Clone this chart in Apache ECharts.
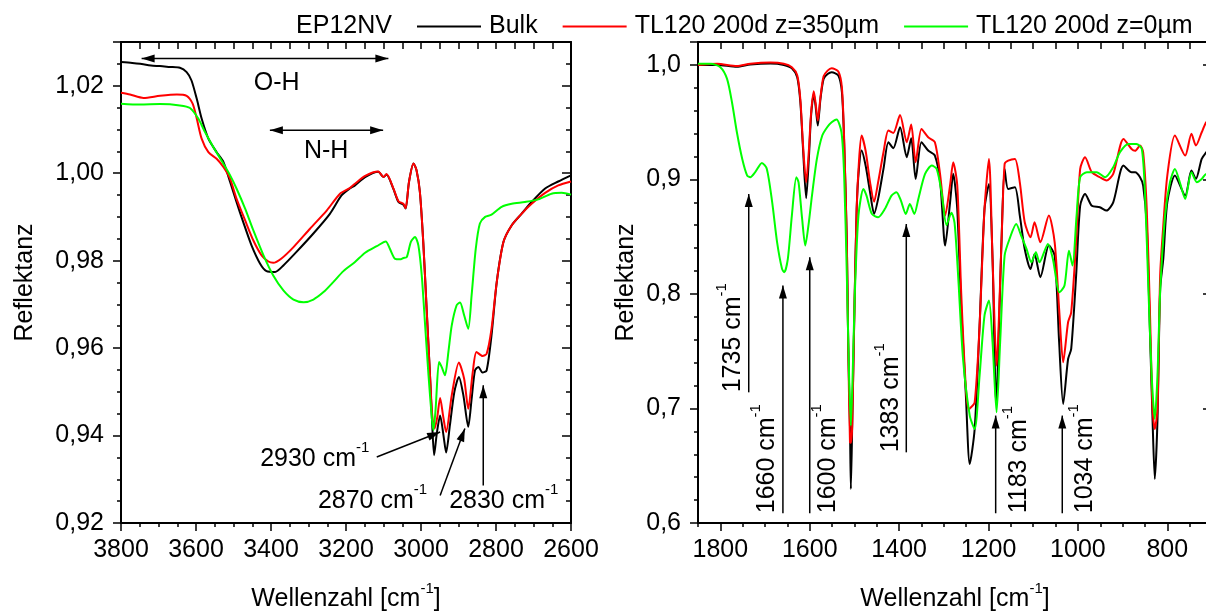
<!DOCTYPE html>
<html><head><meta charset="utf-8">
<script src="https://cdn.jsdelivr.net/npm/echarts@6.0.0/dist/echarts.min.js"></script>
<style>html,body{margin:0;padding:0;background:#fff}#c{width:1206px;height:611px}</style>
</head><body><div id="c"></div>
<script>
// ---------------- DATA ----------------
const seriesNames = ['Bulk', 'TL120 200d z=350µm', 'TL120 200d z=0µm'];
const legendTitle = 'EP12NV';

// Left panel: [wavenumber, reflectance]
const leftBulk = [[3800,1.0254],[3770,1.0252],[3749,1.0250],[3720,1.0246],[3696,1.0245],[3670,1.0243],[3643,1.0241],[3625,1.0231],[3612,1.0212],[3598,1.0170],[3585,1.0125],[3567,1.0079],[3545,1.0048],[3527,1.0026],[3509,0.9980],[3492,0.9934],[3474,0.9888],[3452,0.9835],[3429,0.9793],[3412,0.9776],[3389,0.9774],[3367,0.9789],[3332,0.9820],[3287,0.9862],[3243,0.9907],[3212,0.9949],[3190,0.9965],[3176,0.9972],[3149,0.9991],[3114,1.0003],[3100,0.9991],[3092,0.9997],[3074,0.9965],[3060,0.9934],[3047,0.9928],[3041,0.9919],[3032,0.9980],[3020,1.0022],[3012,1.0007],[3003,0.9957],[2994,0.9843],[2985,0.9690],[2976,0.9538],[2970,0.9423],[2965,0.9355],[2958,0.9404],[2949,0.9446],[2940,0.9400],[2933,0.9361],[2923,0.9423],[2911,0.9500],[2899,0.9534],[2887,0.9492],[2874,0.9420],[2865,0.9484],[2856,0.9549],[2847,0.9557],[2836,0.9544],[2825,0.9549],[2812,0.9629],[2798,0.9751],[2780,0.9843],[2758,0.9881],[2732,0.9907],[2705,0.9934],[2669,0.9965],[2634,0.9981],[2600,0.9995]];
const leftZ350 = [[3800,1.0184],[3776,1.0180],[3740,1.0172],[3696,1.0177],[3651,1.0180],[3625,1.0177],[3609,1.0159],[3598,1.0125],[3585,1.0079],[3567,1.0048],[3545,1.0033],[3527,1.0014],[3509,0.9987],[3492,0.9942],[3469,0.9892],[3447,0.9846],[3425,0.9812],[3407,0.9798],[3394,0.9795],[3372,0.9805],[3340,0.9831],[3296,0.9873],[3251,0.9915],[3216,0.9953],[3190,0.9966],[3176,0.9976],[3149,0.9994],[3114,1.0004],[3100,0.9991],[3092,0.9998],[3074,0.9966],[3060,0.9936],[3047,0.9930],[3041,0.9920],[3032,0.9980],[3020,1.0022],[3012,1.0007],[3003,0.9957],[2994,0.9843],[2985,0.9690],[2976,0.9538],[2970,0.9446],[2964,0.9416],[2957,0.9440],[2949,0.9486],[2941,0.9445],[2933,0.9408],[2918,0.9492],[2899,0.9567],[2885,0.9530],[2874,0.9461],[2862,0.9545],[2852,0.9591],[2836,0.9582],[2825,0.9587],[2812,0.9644],[2798,0.9751],[2780,0.9843],[2758,0.9881],[2732,0.9907],[2705,0.9930],[2669,0.9955],[2634,0.9972],[2600,0.9981]];
const leftZ0 = [[3800,1.0159],[3749,1.0157],[3696,1.0158],[3643,1.0155],[3616,1.0149],[3594,1.0125],[3576,1.0094],[3554,1.0060],[3532,1.0029],[3509,0.9995],[3492,0.9965],[3469,0.9919],[3447,0.9869],[3420,0.9812],[3394,0.9766],[3367,0.9732],[3340,0.9711],[3313,0.9705],[3287,0.9711],[3260,0.9728],[3234,0.9751],[3207,0.9776],[3176,0.9797],[3149,0.9818],[3118,0.9833],[3094,0.9844],[3083,0.9827],[3069,0.9804],[3056,0.9803],[3047,0.9806],[3038,0.9808],[3027,0.9843],[3016,0.9854],[3007,0.9835],[2998,0.9766],[2989,0.9652],[2980,0.9538],[2971,0.9439],[2967,0.9412],[2961,0.9461],[2952,0.9568],[2945,0.9557],[2936,0.9538],[2927,0.9591],[2918,0.9652],[2905,0.9698],[2896,0.9704],[2885,0.9675],[2874,0.9644],[2865,0.9721],[2854,0.9827],[2843,0.9885],[2829,0.9900],[2812,0.9905],[2785,0.9923],[2758,0.9930],[2723,0.9934],[2687,0.9940],[2652,0.9953],[2625,0.9955],[2600,0.9951]];

// Right panel: [wavenumber, reflectance]
const rightBulk = [[1850,1.000],[1807,1.000],[1763,0.9983],[1733,1.0003],[1688,1.0012],[1658,1.000],[1640,0.9971],[1628,0.9892],[1621,0.9674],[1615,0.9266],[1608,0.8836],[1602,0.918],[1597,0.9558],[1591,0.9747],[1587,0.9645],[1582,0.947],[1576,0.9703],[1569,0.9878],[1560,0.9920],[1551,0.9936],[1536,0.9907],[1528,0.9761],[1523,0.9325],[1517,0.8451],[1514,0.7578],[1510,0.6850],[1508,0.6297],[1505,0.6850],[1500,0.7870],[1495,0.8742],[1490,0.9092],[1484,0.9252],[1475,0.9121],[1465,0.8888],[1456,0.8699],[1447,0.8830],[1435,0.9092],[1424,0.9325],[1413,0.9272],[1398,0.9456],[1383,0.9194],[1373,0.9360],[1363,0.9004],[1350,0.9325],[1335,0.9252],[1320,0.9208],[1308,0.8975],[1297,0.8422],[1286,0.8800],[1279,0.9050],[1270,0.8742],[1261,0.7869],[1251,0.7141],[1242,0.6515],[1231,0.6821],[1220,0.7723],[1209,0.8742],[1199,0.8961],[1191,0.8306],[1183,0.7050],[1171,0.8451],[1164,0.9092],[1156,0.8917],[1141,0.8932],[1130,0.8684],[1119,0.8393],[1106,0.8218],[1097,0.8349],[1084,0.8146],[1065,0.8422],[1052,0.8335],[1042,0.7578],[1033,0.7039],[1022,0.7432],[1015,0.7520],[1004,0.8160],[995,0.8770],[984,0.8873],[969,0.8771],[951,0.8757],[936,0.8728],[921,0.8800],[898,0.9121],[880,0.9063],[872,0.9063],[861,0.9019],[854,0.8946],[846,0.8600],[839,0.7700],[833,0.6900],[828,0.6384],[822,0.6900],[816,0.8044],[809,0.8306],[800,0.8800],[783,0.9034],[760,0.8859],[746,0.9077],[736,0.9004],[723,0.9179],[713,0.9237],[700,0.9300]];
const rightZ350 = [[1850,1.000],[1807,1.001],[1763,0.999],[1733,1.001],[1688,1.002],[1658,1.001],[1640,0.998],[1628,0.991],[1621,0.970],[1615,0.930],[1608,0.8975],[1602,0.925],[1597,0.958],[1591,0.977],[1587,0.967],[1582,0.9514],[1576,0.972],[1569,0.990],[1560,0.995],[1551,0.9971],[1536,0.9942],[1528,0.980],[1523,0.935],[1517,0.845],[1514,0.758],[1510,0.6705],[1508,0.670],[1505,0.685],[1500,0.787],[1495,0.874],[1490,0.915],[1484,0.9383],[1475,0.925],[1465,0.8975],[1456,0.8806],[1447,0.8975],[1435,0.9237],[1424,0.9427],[1413,0.9406],[1398,0.9563],[1383,0.9325],[1373,0.9479],[1363,0.915],[1350,0.9441],[1335,0.9368],[1320,0.9325],[1308,0.9034],[1297,0.8684],[1286,0.895],[1279,0.915],[1270,0.8951],[1261,0.800],[1251,0.720],[1245,0.6996],[1242,0.700],[1231,0.7054],[1220,0.7723],[1209,0.8742],[1199,0.9179],[1191,0.8306],[1182,0.7374],[1171,0.8451],[1164,0.9135],[1156,0.9164],[1141,0.9179],[1130,0.8975],[1119,0.8626],[1106,0.8495],[1097,0.8626],[1084,0.8451],[1065,0.8684],[1052,0.8451],[1042,0.7869],[1033,0.7403],[1022,0.7753],[1015,0.7840],[1004,0.8451],[995,0.909],[984,0.9194],[969,0.9063],[951,0.9019],[936,0.8990],[921,0.9048],[898,0.9354],[880,0.9266],[872,0.925],[861,0.9296],[854,0.9237],[846,0.8742],[839,0.7869],[833,0.6996],[828,0.6821],[822,0.6996],[816,0.816],[809,0.8597],[800,0.9034],[783,0.9383],[760,0.9208],[746,0.9398],[736,0.9296],[723,0.9412],[713,0.9499],[700,0.955]];
const rightZ0 = [[1850,1.0009],[1822,1.0009],[1800,0.998],[1785,0.9878],[1774,0.9674],[1763,0.9412],[1751,0.9179],[1740,0.9034],[1733,0.9019],[1722,0.9063],[1707,0.9144],[1696,0.9092],[1684,0.8800],[1673,0.8451],[1662,0.8219],[1657,0.8189],[1649,0.8306],[1640,0.8684],[1630,0.9019],[1625,0.8975],[1617,0.8655],[1610,0.8422],[1602,0.8626],[1595,0.8859],[1584,0.9179],[1572,0.9383],[1561,0.9456],[1551,0.9499],[1540,0.9523],[1529,0.9412],[1523,0.9034],[1517,0.8160],[1512,0.7287],[1508,0.6850],[1504,0.7287],[1499,0.8015],[1491,0.8684],[1480,0.8917],[1473,0.8859],[1461,0.8699],[1447,0.8670],[1432,0.8742],[1417,0.8859],[1406,0.8888],[1396,0.8815],[1385,0.8699],[1376,0.8786],[1366,0.8699],[1357,0.8830],[1342,0.9048],[1327,0.9121],[1316,0.9092],[1305,0.8888],[1294,0.8600],[1283,0.8710],[1276,0.8620],[1268,0.8160],[1257,0.7432],[1242,0.6938],[1231,0.6821],[1220,0.7287],[1209,0.7811],[1199,0.7942],[1191,0.7578],[1182,0.6967],[1174,0.7578],[1164,0.8335],[1153,0.8480],[1138,0.8611],[1127,0.8509],[1115,0.8393],[1104,0.8277],[1094,0.8364],[1086,0.8277],[1067,0.8437],[1056,0.8306],[1041,0.8015],[1030,0.8073],[1020,0.8378],[1012,0.8248],[1003,0.8684],[995,0.9019],[980,0.9063],[958,0.9063],[939,0.9019],[921,0.9106],[906,0.9237],[887,0.9310],[869,0.9310],[857,0.9266],[850,0.8888],[842,0.8015],[835,0.7287],[828,0.6909],[822,0.7287],[816,0.8015],[805,0.8684],[794,0.8975],[783,0.9092],[772,0.8975],[760,0.8830],[746,0.9063],[734,0.8975],[723,0.9004],[713,0.9048],[700,0.9050]];

// Axis ticks / labels
const rightXLabelValues = [800, 1000, 1200, 1400, 1600, 1800];

// Annotations (data coordinates)
const leftTexts = [
  {text:'O-H', w:3385, v:1.0206, align:'center'},
  {text:'N-H', w:3253, v:1.0051, align:'center'},
  {text:'2930 cm', sup:'-1', w:3429, v:0.9346, align:'left'},
  {text:'2870 cm', sup:'-1', w:3275, v:0.9250, align:'left'},
  {text:'2830 cm', sup:'-1', w:2925, v:0.9250, align:'left'}
];
const leftArrows = [ // from [w,v] to [w,v], heads
  {from:[3745,1.0262], to:[3087,1.0262], both:true},
  {from:[3403,1.0098], to:[3101,1.0098], both:true},
  {from:[3118,0.9351], to:[2949,0.9408]},
  {from:[2949,0.9263], to:[2883,0.9416]},
  {from:[2834,0.9286], to:[2834,0.9515]}
];
const rightLabels = ['1735', '1660', '1600', '1383', '1183', '1034'];
const rightLabelPos = [[1771.6,0.7141],[1695.5,0.6085],[1559,0.6085],[1418,0.6617],[1132,0.6085],[984,0.6085]];
const rightArrowX = [1736.5, 1660, 1600, 1384, 1184, 1035];
const rightArrowTail = [0.7141, 0.6085, 0.6085, 0.6617, 0.6085, 0.6085];
const rightArrowTip = [0.8873, 0.8073, 0.8320, 0.8611, 0.6938, 0.6938];

// ---------------- CHART ----------------
const FONT = "'Liberation Sans', Arial, Helvetica, sans-serif";
const FS = 25;
const colors = ['#000000', '#ff0000', '#00ff00'];
const chart = echarts.init(document.getElementById('c'), null, {renderer:'canvas'});

const commaFmt = d => v => v.toFixed(d).replace('.', ',');
const lbl = {color:'#000', fontSize:FS, fontFamily:FONT};
const axLine = {show:true, lineStyle:{color:'#000', width:2}};
const nameRich = {
  m:{fontSize:FS, fontFamily:FONT, color:'#000', lineHeight:37},
  s:{fontSize:15, fontFamily:FONT, color:'#000', lineHeight:15, verticalAlign:'top'}
};

function mainX(gi, min, max, extra) {
  return Object.assign({
    type:'value', gridIndex:gi, position:'bottom', min, max, inverse:true,
    axisLine:axLine,
    axisTick:{show:true, inside:false, length:8, lineStyle:{color:'#000', width:1.5}},
    minorTick:{show:false},
    splitLine:{show:false},
    axisLabel:Object.assign({margin:15, formatter: v => String(v)}, lbl),
    name:'{m|Wellenzahl [cm}{s|-1}{m|]}', nameLocation:'middle', nameGap:58,
    nameTextStyle:{rich:nameRich}
  }, extra);
}
function topX(gi, min, max) {
  return {type:'value', gridIndex:gi, position:'top', min, max, inverse:true, interval:50,
    axisLine:axLine, axisTick:{show:true, inside:true, length:7, lineStyle:{color:'#000', width:1.5}},
    axisLabel:{show:false}, splitLine:{show:false}};
}
function mainY(gi, min, max, interval, dec, split, nameGap) {
  return {type:'value', gridIndex:gi, position:'left', min, max, interval,
    axisLine:axLine,
    axisTick:{show:true, inside:false, length:8, lineStyle:{color:'#000', width:1.5}},
    minorTick:{show:true, splitNumber:split, length:4, lineStyle:{color:'#000', width:1.5}},
    splitLine:{show:false}, minorSplitLine:{show:false},
    axisLabel:Object.assign({margin:17, formatter:commaFmt(dec), showMaxLabel:false}, lbl),
    name:'Reflektanz', nameLocation:'middle', nameGap, nameRotate:90,
    nameTextStyle:{fontSize:FS, fontFamily:FONT, color:'#000'}};
}
function rightY(gi, min, max, interval, split) {
  return {type:'value', gridIndex:gi, position:'right', min, max, interval,
    axisLine:axLine,
    axisTick:{show:true, inside:true, length:9, lineStyle:{color:'#000', width:1.5}},
    minorTick:{show:true, splitNumber:split, length:5, lineStyle:{color:'#000', width:1.5}},
    splitLine:{show:false}, axisLabel:{show:false}};
}

function lineSeries(name, data, color, xi, yi, z) {
  return {type:'line', name, data, xAxisIndex:xi, yAxisIndex:yi, symbol:'none', showSymbol:false,
    smooth:0.25, lineStyle:{color, width:2}, itemStyle:{color}, z, clip:true,
    emphasis:{disabled:true}, animation:false};
}

const option = {
  animation:false,
  backgroundColor:'#fff',
  textStyle:{fontFamily:FONT},
  legend:{
    data:seriesNames.map(n => ({name:n, icon:'rect'})), left:417, top:12.5, padding:0,
    itemWidth:64, itemHeight:2, itemGap:25,
    textStyle:{fontSize:FS, fontFamily:FONT, color:'#000', lineHeight:28, padding:[0,0,0,3]},
    selectedMode:false
  },
  grid:[
    {left:121, top:42, width:450, height:481, containLabel:false, outerBoundsMode:'none'},
    {left:698, top:42, width:514, height:481, containLabel:false, outerBoundsMode:'none'}
  ],
  xAxis:[
    mainX(0, 2600, 3800, {interval:200, minorTick:{show:true, splitNumber:4, length:4, lineStyle:{color:'#000', width:1.5}}}),
    topX(0, 2600, 3800),
    mainX(1, 700, 1850, {interval:50,
      axisLabel:Object.assign({margin:15, customValues:rightXLabelValues, formatter: v => String(v)}, lbl),
      axisTick:{show:true, inside:false, length:8, customValues:rightXLabelValues, lineStyle:{color:'#000', width:1.5}}}),
    topX(1, 700, 1850),
    {type:'value', gridIndex:1, position:'bottom', offset:0, min:700, max:1850, inverse:true, interval:50,
      axisLine:{show:false}, axisTick:{show:true, inside:false, length:4, lineStyle:{color:'#000', width:1.5}},
      axisLabel:{show:false}, splitLine:{show:false}}
  ],
  yAxis:[
    mainY(0, 0.92, 1.03, 0.02, 2, 4, 83),
    rightY(0, 0.92, 1.03, 0.02, 4),
    mainY(1, 0.6, 1.02, 0.1, 1, 5, 59),
    rightY(1, 0.6, 1.02, 0.1, 5)
  ],
  series:[
    lineSeries(seriesNames[0], leftBulk, colors[0], 0, 0, 2),
    lineSeries(seriesNames[1], leftZ350, colors[1], 0, 0, 3),
    lineSeries(seriesNames[2], leftZ0, colors[2], 0, 0, 4),
    lineSeries(seriesNames[0], rightBulk, colors[0], 2, 2, 2),
    lineSeries(seriesNames[1], rightZ350, colors[1], 2, 2, 3),
    lineSeries(seriesNames[2], rightZ0, colors[2], 2, 2, 4)
  ]
};
chart.setOption(option);

// ---------------- ANNOTATIONS (positioned through the axes) ----------------
const toPxL = p => chart.convertToPixel({xAxisIndex:0, yAxisIndex:0}, p);
const toPxR = p => chart.convertToPixel({xAxisIndex:2, yAxisIndex:2}, p);
const g = [];
const annRich = {
  m:{fontSize:FS, fontFamily:FONT, fill:'#000', lineHeight:37},
  s:{fontSize:15, fontFamily:FONT, fill:'#000', lineHeight:15, verticalAlign:'top'}
};
function richText(t) { return t.sup ? '{m|' + t.text + '}{s|' + t.sup + '}' : '{m|' + t.text + '}'; }
function arrow(a, b, headA, headB) {
  const L = 13, H = 4;
  const dx = b[0]-a[0], dy = b[1]-a[1], len = Math.hypot(dx, dy), ux = dx/len, uy = dy/len;
  const px = -uy, py = ux;
  g.push({type:'line', silent:true, z:50, shape:{x1:a[0], y1:a[1], x2:b[0], y2:b[1]}, style:{stroke:'#000', lineWidth:1.5}});
  const head = (tip, sx, sy) => g.push({type:'polygon', silent:true, z:51, shape:{points:[
    tip, [tip[0]-sx*L+px*H, tip[1]-sy*L+py*H], [tip[0]-sx*L-px*H, tip[1]-sy*L-py*H]]}, style:{fill:'#000'}});
  if (headB) head(b, ux, uy);
  if (headA) head(a, -ux, -uy);
}
leftTexts.forEach(t => {
  const p = toPxL([t.w, t.v]);
  g.push({type:'text', x:p[0], y:p[1], z:60, silent:true,
    style:{text:richText(t), rich:annRich, align:t.align, verticalAlign:'middle'}});
});
leftArrows.forEach(a => arrow(toPxL(a.from), toPxL(a.to), !!a.both, true));
rightLabels.forEach((s, i) => {
  const p = toPxR(rightLabelPos[i]);
  g.push({type:'text', x:p[0], y:p[1], rotation:Math.PI/2, z:60, silent:true,
    style:{text:richText({text:s + ' cm', sup:'-1'}), rich:annRich, align:'left', verticalAlign:'middle'}});
  arrow(toPxR([rightArrowX[i], rightArrowTail[i]]), toPxR([rightArrowX[i], rightArrowTip[i]]), false, true);
});
g.push({type:'text', x:392, y:26.5, z:60, silent:true,
  style:{text:legendTitle, fontSize:FS, fontFamily:FONT, fill:'#000', align:'right', verticalAlign:'middle'}});
chart.setOption({graphic:g});
</script></body></html>
